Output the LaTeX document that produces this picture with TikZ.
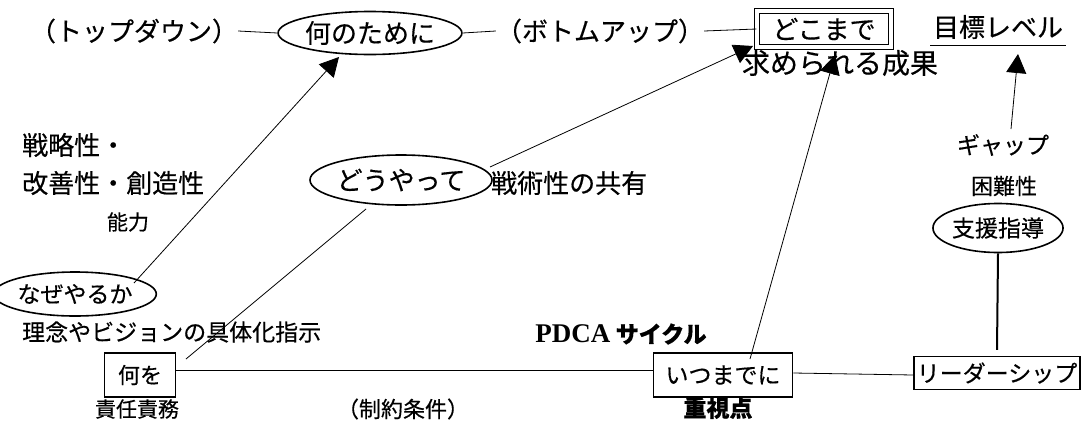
\documentclass[tikz,border=0pt]{standalone}
\usepackage{fontspec}
\setmainfont{Noto Sans CJK JP}[FakeBold=0.4]
\newfontfamily\serifx{Liberation Serif}
\usetikzlibrary{arrows.meta,shapes.geometric}
\begin{document}
\begin{tikzpicture}[x=1pt,y=-1pt,
  txt/.style={inner sep=0pt},
  big/.style={font=\fontsize{26}{30}\selectfont},
  mid/.style={font=\fontsize{23}{27}\selectfont},
  sml/.style={font=\fontsize{21}{25}\selectfont},
  oval/.style={draw,ellipse,line width=1.6pt,inner sep=0pt},
  boxx/.style={draw,rectangle,line width=1.5pt,inner sep=0pt},
  conn/.style={line width=0.8pt},
  arr/.style={line width=0.8pt,-{Triangle[length=19pt,width=20pt]}}]
\useasboundingbox (0,0) rectangle (1081,421);
% top row
\node[txt,big] (topdown) at (134,31) {（トップダウン）};
\node[oval,big,minimum width=183,minimum height=43] (nanno) at (370,33) {何のために};
\node[txt,big] (bottomup) at (600,31) {（ボトムアップ）};
\node[draw,double,double distance=3.5pt,line width=1.4pt,inner sep=0pt,
      minimum width=134,minimum height=36,big] (dokomade) at (824,29) {どこまで};
\node[txt,big] (mokuhyo) at (998,27) {目標レベル};
\draw[line width=1pt] (930,45) -- (1066,45);
\node[txt,font=\fontsize{28}{32}\selectfont] (motome) at (840,63) {求められる成果};
% middle
\node[txt,big,anchor=west] (senryaku1) at (22,145) {戦略性・};
\node[txt,big,anchor=west] (senryaku2) at (22,183) {改善性・創造性};
\node[txt,sml] (nouryoku) at (128,222) {能力};
\node[oval,big,minimum width=167,minimum height=50] (douyatte) at (401,180) {どうやって};
\node[txt,big,anchor=west] (senjutsu) at (491,183) {戦術性の共有};
\node[txt,mid] (gap) at (1003,145) {ギャップ};
\node[txt,font=\fontsize{22}{26}\selectfont] (konnan) at (1004,186) {困難性};
\node[oval,mid,minimum width=127,minimum height=49] (shien) at (998,228) {支援指導};
% lower
\node[oval,mid,minimum width=136,minimum height=44] (naze) at (75,294) {なぜやるか};
\node[txt,mid,anchor=west] (rinen) at (22,332) {理念やビジョンの具体化指示};
\node[txt,font=\fontsize{23}{27}\selectfont\bfseries] (pdca) at (621,334) {{\serifx\fontsize{27}{30}\selectfont\bfseries PDCA} サイクル};
\node[boxx,font=\fontsize{22}{26}\selectfont,minimum width=71,minimum height=44] (nani) at (140,375) {何を};
\node[boxx,mid,minimum width=139,minimum height=44] (itsu) at (723,375) {いつまでに};
\node[boxx,mid,minimum width=166,minimum height=33] (leader) at (997,373) {リーダーシップ};
\node[txt,sml] (sekinin) at (137,409) {責任責務};
\node[txt,font=\fontsize{22}{26}\selectfont] (seiyaku) at (403,409) {（制約条件）};
\node[txt,font=\fontsize{23}{27}\selectfont\bfseries] (juushi) at (718,408) {重視点};
% connector end points
\coordinate (a1s) at (134,283);
\coordinate (a1e) at (339,57);
\coordinate (a2s) at (490,167);
\coordinate (a2e) at (753,46);
\coordinate (a3s) at (750,359);
\coordinate (a3e) at (835,55);
\coordinate (a4s) at (1011,129);
\coordinate (a4e) at (1018,54);
\coordinate (d1) at (366,209);
\coordinate (d2) at (186,359);
% connectors
\draw[conn] (topdown.east) -- (nanno.west);
\draw[conn] (nanno.east) -- (bottomup.west);
\draw[conn] (bottomup.east) -- (dokomade.west);
\draw[conn] ([yshift=5pt]nani.east) -- ([yshift=5pt]itsu.west);
\draw[conn] ([yshift=2pt]itsu.east) -- ([yshift=-2pt]leader.west);
\draw[line width=2pt] (shien.south) -- ([yshift=6pt]leader.north);
\draw[conn] (d1) -- (d2);
\draw[arr] (a1s) -- (a1e);
\draw[arr] (a2s) -- (a2e);
\draw[arr] (a3s) -- (a3e);
\draw[arr] (a4s) -- (a4e);
\end{tikzpicture}
\end{document}
